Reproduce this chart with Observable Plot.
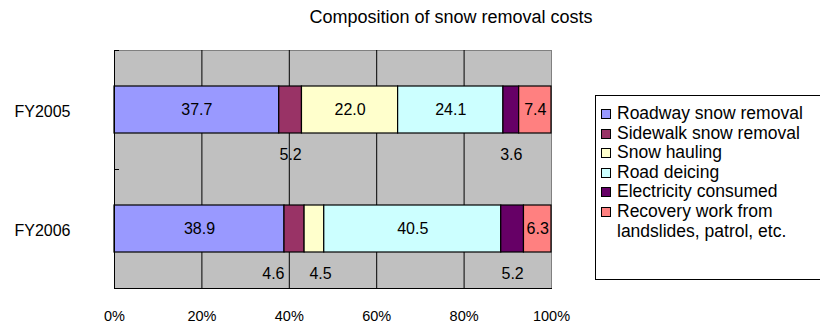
<!DOCTYPE html>
<html>
<head>
<meta charset="utf-8">
<script src="https://cdn.jsdelivr.net/npm/d3@7"></script>
<script src="https://cdn.jsdelivr.net/npm/@observablehq/plot@0.6"></script>
<style>
  html, body { margin: 0; padding: 0; background: #fff; }
  body { font-family: "Liberation Sans", Arial, sans-serif; }
  #wrap { position: relative; width: 820px; height: 327px; overflow: hidden; }
  #title { position: absolute; left: 0; width: 902px; top: 7px; text-align: center;
           font-size: 18px; color: #000; }
  #legend { position: absolute; left: 595px; top: 95px; width: 240px; height: 175px;
            border: 1px solid #000; padding-top: 8px; box-sizing: content-box; }
  .item { position: relative; padding-left: 21px; font-size: 17.5px; line-height: 19.6px; color: #000; }
  .sw { position: absolute; left: 5px; top: 5px; width: 8px; height: 8px; border: 1px solid #000; }
</style>
</head>
<body>
<div id="wrap">
  <div id="chart"></div>
  <div id="title"></div>
  <div id="legend"></div>
</div>
<script>
// Fiscal years and the cost categories (percent of total)
const years = ["FY2005", "FY2006"];
const categories = [
  "Roadway snow removal",
  "Sidewalk snow removal",
  "Snow hauling",
  "Road deicing",
  "Electricity consumed",
  "Recovery work from landslides, patrol, etc."
];
const fy2005 = [37.7, 5.2, 22.0, 24.1, 3.6, 7.4];
const fy2006 = [38.9, 4.6, 4.5, 40.5, 5.2, 6.3];
const colors = ["#9999ff", "#993366", "#ffffcc", "#ccffff", "#660066", "#ff8080"];
const xTicks = [0, 20, 40, 60, 80, 100];
const titleText = "Composition of snow removal costs";

// Build stacked segments
const series = {FY2005: fy2005, FY2006: fy2006};
const rows = [];
for (const year of years) {
  let acc = 0;
  series[year].forEach((v, i) => {
    rows.push({year, cat: categories[i], value: v, x1: acc, x2: acc + v, mid: acc + v / 2});
    acc += v;
  });
}

// Narrow segments get their label under the bar; neighbours that would collide are spread apart
const inside = rows.filter(d => d.value >= 6);
const below = rows.filter(d => d.value < 6).map(d => ({...d, anchor: "middle", lx: d.mid}));
for (const year of years) {
  const r = below.filter(d => d.year === year).sort((a, b) => a.mid - b.mid);
  for (let i = 1; i < r.length; i++) {
    if (r[i].mid - r[i - 1].mid < 8) {
      r[i - 1].anchor = "end"; r[i - 1].lx = r[i - 1].x1;
      r[i].anchor = "start"; r[i].lx = r[i].x1 + 1.1;
    }
  }
}

const fmt = d => d.value.toFixed(1);
const belowMark = anchor => Plot.text(below.filter(d => d.anchor === anchor), {
  x: "lx", y: "year", text: fmt, dy: 45, textAnchor: anchor, fontSize: 16, fill: "#000"
});

const chart = Plot.plot({
  width: 820,
  height: 327,
  marginLeft: 114,
  marginRight: 269,
  marginTop: 50,
  marginBottom: 39,
  style: {fontFamily: "'Liberation Sans', Arial, sans-serif", color: "#000", background: "transparent"},
  x: {domain: [0, 100]},
  y: {domain: years, paddingInner: 0.605, paddingOuter: 0.3025},
  color: {domain: categories, range: colors},
  marks: [
    Plot.frame({fill: "#c0c0c0", stroke: "#808080"}),
    Plot.ruleX(xTicks.slice(1, -1), {stroke: "#000", strokeWidth: 1}),
    Plot.barX(rows, {x1: "x1", x2: "x2", y: "year", fill: "cat", stroke: "#000", strokeWidth: 1.2}),
    Plot.text(inside, {x: "mid", y: "year", text: fmt, fontSize: 16, fill: "#000"}),
    belowMark("middle"),
    belowMark("end"),
    belowMark("start"),
    // category boundary ticks on the category axis
    Plot.ruleY(years, {y: d => d, x1: 0, x2: 1.15, dy: 59.5, stroke: "#000"}),
    Plot.ruleY([years[0]], {y: d => d, x1: 0, x2: 1.15, dy: -59.5, stroke: "#000"}),
    Plot.frame({anchor: "left", stroke: "#000"}),
    Plot.frame({anchor: "bottom", stroke: "#000"}),
    Plot.axisX({ticks: xTicks, tickFormat: d => d + "%", tickSize: 0, tickPadding: 22, fontSize: 14.5, label: null}),
    Plot.axisY({tickSize: 0, tickPadding: 44, fontSize: 16, dy: 2, label: null})
  ]
});
document.getElementById("chart").appendChild(chart);

document.getElementById("title").textContent = titleText;

// Legend
const legend = d3.select("#legend");
categories.forEach((c, i) => {
  const item = legend.append("div").attr("class", "item");
  item.append("span").attr("class", "sw").style("background", colors[i]);
  if (i === categories.length - 1) {
    item.append("span").text("Recovery work from");
    item.append("br");
    item.append("span").text("landslides, patrol, etc.");
  } else {
    item.append("span").text(c);
  }
});
</script>
</body>
</html>
